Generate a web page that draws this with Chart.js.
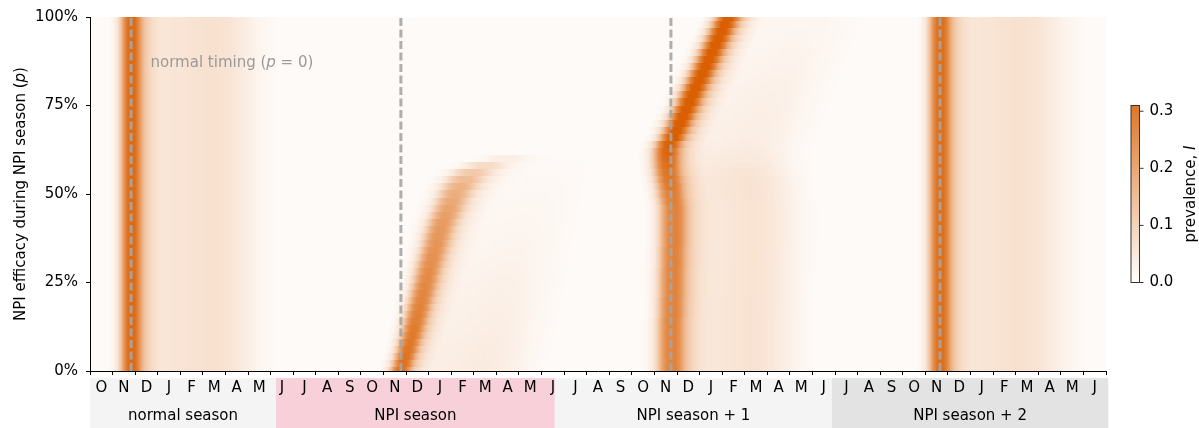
<!DOCTYPE html>
<html>
<head>
<meta charset="utf-8">
<script src="https://cdn.jsdelivr.net/npm/chart.js@4.4.0/dist/chart.umd.min.js"></script>
<style>
  html, body { margin: 0; padding: 0; background: #fff; }
</style>
</head>
<body>
<canvas id="myChart" width="1199" height="428"></canvas>
<script>
// one label per month, Oct of the normal season to Jun three years later
const monthLabels = ['O','N','D','J','F','M','A','M',
  'J','J','A','S','O','N','D','J','F','M','A','M',
  'J','J','A','S','O','N','D','J','F','M','A','M',
  'J','J','A','S','O','N','D','J','F','M','A','M','J'];
const seasonNames = ['normal season', 'NPI season', 'NPI season + 1', 'NPI season + 2'];
// season edges, months from the left end of the time axis
const seasonEdges = [0, 8.24, 20.59, 32.86, 45.1];
// peak time without NPI (p = 0), one per season
const normalTiming = [1.82, 13.77, 25.73, 37.65];

// NPI efficacy p (%) of each heatmap row
const efficacy = [0, 2, 4, 6, 8, 10, 12, 14, 16, 18, 20, 22, 24, 26, 28, 30, 32, 34, 36, 38,
  40, 42, 44, 46, 48, 50, 52, 54, 56, 58, 60, 62, 64, 66, 68, 70, 72, 74, 76, 78,
  80, 82, 84, 86, 88, 90, 92, 94, 96, 98, 100];

// normal season and NPI season + 2 do not depend on p:
// peak time (months), peak height, relative width, height of the tail
const peakTime0 = 1.82, peakHeight0 = 0.28, peakWidth0 = 1.0, tailHeight0 = 0.05;
const peakTime3 = 37.65, peakHeight3 = 0.27, peakWidth3 = 1.05, tailHeight3 = 0.05;

// NPI season, one value per row of p
const peakTime1 = [13.77,13.87,13.97,14.07,14.16,14.26,14.34,14.42,14.50,14.58,
  14.66,14.74,14.82,14.90,14.98,15.06,15.15,15.24,15.33,15.41,
  15.50,15.61,15.75,15.88,16.01,16.17,16.37,16.61,16.92,17.50,
  18.38,null,null,null,null,null,null,null,null,null,
  null,null,null,null,null,null,null,null,null,null,null];
const peakHeight1 = [0.27,0.266,0.262,0.258,0.254,0.25,0.246,0.242,0.238,0.234,
  0.23,0.226,0.222,0.218,0.214,0.21,0.206,0.202,0.198,0.194,
  0.19,0.185,0.178,0.17,0.16,0.15,0.14,0.12,0.095,0.06,
  0.025,0,0,0,0,0,0,0,0,0,0,0,0,0,0,0,0,0,0,0,0];
const peakWidth1 = [1.0,1.02,1.04,1.06,1.08,1.1,1.12,1.14,1.16,1.18,
  1.2,1.22,1.24,1.26,1.28,1.3,1.32,1.34,1.36,1.38,
  1.4,1.43,1.46,1.5,1.55,1.6,1.7,1.8,1.9,2.0,
  2.0,1,1,1,1,1,1,1,1,1,1,1,1,1,1,1,1,1,1,1,1];
const tailHeight1 = [0.03,0.03,0.029,0.028,0.027,0.026,0.025,0.024,0.023,0.022,
  0.021,0.02,0.019,0.018,0.017,0.016,0.015,0.014,0.013,0.012,
  0.011,0.01,0.009,0.008,0.007,0.006,0.005,0.004,0.003,0.002,
  0.001,0,0,0,0,0,0,0,0,0,0,0,0,0,0,0,0,0,0,0,0];

// NPI season + 1
const peakTime2 = [25.73,25.73,25.73,25.73,25.73,25.73,25.73,25.73,25.76,25.76,
  25.76,25.78,25.78,25.78,25.78,25.80,25.80,25.80,25.82,25.82,
  25.82,25.82,25.82,25.82,25.78,25.73,25.69,25.64,25.59,25.56,
  25.55,25.56,25.64,25.82,25.96,26.11,26.25,26.39,26.54,26.68,
  26.82,26.97,27.11,27.26,27.40,27.54,27.69,27.83,27.97,28.12,28.26];
const peakHeight2 = [0.23,0.23,0.23,0.23,0.23,0.23,0.23,0.23,0.23,0.23,
  0.23,0.23,0.23,0.23,0.23,0.23,0.23,0.23,0.23,0.23,
  0.23,0.23,0.23,0.23,0.235,0.24,0.25,0.255,0.26,0.27,
  0.28,0.29,0.30,0.31,0.31,0.31,0.31,0.31,0.31,0.31,
  0.31,0.31,0.31,0.31,0.31,0.31,0.31,0.31,0.31,0.31,0.31];
const peakWidth2 = [1.3,1.3,1.3,1.3,1.3,1.3,1.3,1.3,1.3,1.3,
  1.3,1.3,1.3,1.3,1.3,1.3,1.3,1.3,1.3,1.3,
  1.3,1.3,1.3,1.3,1.3,1.3,1.3,1.3,1.3,1.3,
  1.3,1.3,1.28,1.25,1.25,1.25,1.25,1.25,1.25,1.25,
  1.25,1.25,1.25,1.25,1.25,1.25,1.25,1.25,1.25,1.25,1.25];
const tailHeight2 = [0.045,0.045,0.045,0.045,0.045,0.045,0.045,0.045,0.045,0.045,
  0.045,0.045,0.045,0.045,0.045,0.045,0.045,0.045,0.045,0.045,
  0.045,0.045,0.045,0.045,0.045,0.045,0.045,0.045,0.042,0.038,
  0.034,0.031,0.028,0.026,0.025,0.024,0.023,0.022,0.021,0.02,
  0.019,0.018,0.017,0.016,0.015,0.014,0.013,0.012,0.012,0.011,0.011];

// cross-section of one peak and of its tail (months from the peak, relative level)
const peakOffset = [-1.0, -0.8, -0.6, -0.45, -0.3, -0.15, 0, 0.15, 0.3, 0.45, 0.6, 0.8, 1.0, 1.3];
const peakShape = [0, 0.04, 0.15, 0.38, 0.72, 0.95, 1, 0.95, 0.75, 0.45, 0.25, 0.12, 0.05, 0];
const tailOffset = [0, 0.4, 0.8, 1.2, 1.6, 2.0, 2.5, 3.0, 3.5, 4.0, 4.5, 5.0, 5.5, 6.0, 6.6];
const tailShape = [0, 0.6, 0.8, 0.8, 0.8, 0.82, 0.88, 0.95, 1, 0.95, 0.8, 0.55, 0.3, 0.12, 0];
const baseLevel = 0.009;

const colorMax = 0.31;
const colorbarTicks = [0, 0.1, 0.2, 0.3];

const seasons = [
  {time: peakTime0, height: peakHeight0, width: peakWidth0, tail: tailHeight0},
  {time: peakTime1, height: peakHeight1, width: peakWidth1, tail: tailHeight1},
  {time: peakTime2, height: peakHeight2, width: peakWidth2, tail: tailHeight2},
  {time: peakTime3, height: peakHeight3, width: peakWidth3, tail: tailHeight3}
];
const seasonColors = ['#f4f4f4', '#f7d0da', '#f4f4f4', '#e3e3e3'];

// value of a season setting at row k (a single number when it does not depend on p)
function at(a, k) {
  return Array.isArray(a) ? a[k] : a;
}

function lookup(offsets, shape, d) {
  if (d <= offsets[0] || d >= offsets[offsets.length - 1]) return 0;
  let i = 1;
  while (offsets[i] < d) i++;
  const f = (d - offsets[i - 1]) / (offsets[i] - offsets[i - 1]);
  return shape[i - 1] + f * (shape[i] - shape[i - 1]);
}

function prevalence(t, row) {
  let v = baseLevel;
  seasons.forEach(s => {
    const t0 = at(s.time, row);
    if (t0 === null) return;
    v += at(s.height, row) * lookup(peakOffset, peakShape, (t - t0) / at(s.width, row));
    v += at(s.tail, row) * lookup(tailOffset, tailShape, t - t0);
  });
  return Math.min(v, colorMax);
}

// white -> dark orange
function colour(v) {
  const f = Math.max(0, Math.min(1, v / colorMax));
  const r = Math.round(255 + f * (217 - 255));
  const g = Math.round(255 + f * (95 - 255));
  const b = Math.round(255 + f * (2 - 255));
  return 'rgb(' + r + ',' + g + ',' + b + ')';
}

// text in pieces, some in italic, centred on x
function drawParts(ctx, parts, x, y, size) {
  let total = 0;
  parts.forEach(p => {
    ctx.font = (p[1] ? 'italic ' : '') + size + 'px "DejaVu Sans"';
    total += ctx.measureText(p[0]).width;
  });
  let cx = x - total / 2;
  parts.forEach(p => {
    ctx.font = (p[1] ? 'italic ' : '') + size + 'px "DejaVu Sans"';
    ctx.fillText(p[0], cx, y);
    cx += ctx.measureText(p[0]).width;
  });
  return total;
}

const backdrop = {
  id: 'backdrop',
  beforeDraw(chart) {
    const ctx = chart.ctx;
    const area = chart.chartArea;
    const x = chart.scales.x;
    const y = chart.scales.y;
    ctx.save();
    // season boxes under the month labels
    seasonNames.forEach((name, i) => {
      const x0 = x.getPixelForValue(seasonEdges[i]);
      const x1 = x.getPixelForValue(seasonEdges[i + 1]);
      ctx.fillStyle = seasonColors[i];
      ctx.fillRect(x0, area.bottom + 7, x1 - x0, chart.height - area.bottom - 7);
      ctx.fillStyle = '#000';
      ctx.font = '15px "DejaVu Sans"';
      ctx.textAlign = 'center';
      ctx.textBaseline = 'alphabetic';
      ctx.fillText(name, (x0 + x1) / 2, area.bottom + 49);
    });
    // heatmap, one row per efficacy level
    ctx.beginPath();
    ctx.rect(area.left, area.top, area.right - area.left, area.bottom - area.top);
    ctx.clip();
    efficacy.forEach((p, k) => {
      const lo = k > 0 ? (p + efficacy[k - 1]) / 2 : p;
      const hi = k < efficacy.length - 1 ? (p + efficacy[k + 1]) / 2 : p;
      const yTop = Math.round(y.getPixelForValue(hi));
      const yBot = Math.round(y.getPixelForValue(lo));
      for (let px = Math.floor(area.left); px < area.right; px++) {
        const t = x.getValueForPixel(px + 0.5);
        ctx.fillStyle = colour(prevalence(t, k));
        ctx.fillRect(px, yTop, 1, yBot - yTop);
      }
    });
    ctx.restore();
  }
};

const overlay = {
  id: 'overlay',
  afterDraw(chart) {
    const ctx = chart.ctx;
    const area = chart.chartArea;
    const x = chart.scales.x;
    const y = chart.scales.y;
    ctx.save();
    ctx.textBaseline = 'alphabetic';
    ctx.textAlign = 'left';

    // annotation of the dashed lines
    const note = [['normal timing (', false], ['p', true], [' = 0)', false]];
    ctx.fillStyle = '#9a9a9a';
    const w = drawParts(ctx, note, 0, -1000, 15);
    drawParts(ctx, note, x.getPixelForValue(normalTiming[0] + 0.86) + w / 2, y.getPixelForValue(85.8), 15);

    // y axis title
    ctx.fillStyle = '#000';
    ctx.save();
    ctx.translate(25, (area.top + area.bottom) / 2);
    ctx.rotate(-Math.PI / 2);
    drawParts(ctx, [['NPI efficacy during NPI season (', false], ['p', true], [')', false]], 0, 0, 15);
    ctx.restore();

    // colour bar
    const cw = 8.5;
    const ch = (area.bottom - area.top) / 2;
    const cx = area.right + 25;
    const cy = (area.top + area.bottom) / 2 - ch / 2;
    for (let i = 0; i < ch; i++) {
      ctx.fillStyle = colour(colorMax * (1 - (i + 0.5) / ch));
      ctx.fillRect(cx, cy + i, cw, 1.2);
    }
    ctx.strokeStyle = '#333';
    ctx.lineWidth = 1;
    ctx.strokeRect(cx, cy, cw, ch);
    ctx.fillStyle = '#000';
    ctx.font = '15px "DejaVu Sans"';
    ctx.textBaseline = 'middle';
    colorbarTicks.forEach(v => {
      const ty = cy + ch * (1 - v / colorMax);
      ctx.beginPath();
      ctx.moveTo(cx + cw, ty);
      ctx.lineTo(cx + cw + 4, ty);
      ctx.stroke();
      ctx.fillText(v.toFixed(1), cx + cw + 10, ty);
    });
    ctx.textBaseline = 'alphabetic';
    ctx.translate(1195, (area.top + area.bottom) / 2);
    ctx.rotate(-Math.PI / 2);
    drawParts(ctx, [['prevalence, ', false], ['I', true]], 0, 0, 15);
    ctx.restore();
  }
};

Chart.defaults.font.family = '"DejaVu Sans"';
Chart.defaults.font.size = 15;
Chart.defaults.color = '#000';

const ctx = document.getElementById('myChart').getContext('2d');
const myChart = new Chart(ctx, {
  type: 'scatter',
  data: {
    datasets: normalTiming.map(t => ({
      data: [{x: t, y: 0}, {x: t, y: 100}],
      showLine: true,
      borderColor: 'rgba(165,165,165,0.9)',
      borderWidth: 3,
      borderDash: [8, 3.5],
      pointRadius: 0
    }))
  },
  options: {
    responsive: false,
    animation: false,
    layout: {padding: {top: 15, right: 93, left: 0, bottom: 0}},
    plugins: {legend: {display: false}, tooltip: {enabled: false}},
    scales: {
      x: {type: 'linear', min: 0, max: 45, display: false},
      months: {
        type: 'category',
        axis: 'x',
        position: 'bottom',
        labels: monthLabels,
        offset: true,
        grid: {offset: true, drawOnChartArea: false, tickLength: 4, color: '#000'},
        border: {display: true, color: '#000', width: 1},
        ticks: {autoSkip: false, maxRotation: 0, minRotation: 0, padding: 4, color: '#000'},
        afterFit(scale) { scale.height = 57; }
      },
      y: {
        type: 'linear',
        min: 0,
        max: 100,
        ticks: {stepSize: 25, padding: 8, color: '#000', callback: v => v + '%'},
        grid: {drawOnChartArea: false, tickLength: 4, color: '#000'},
        border: {display: true, color: '#000', width: 1},
        afterFit(scale) { scale.width = 90; }
      }
    }
  },
  plugins: [backdrop, overlay]
});
</script>
</body>
</html>
